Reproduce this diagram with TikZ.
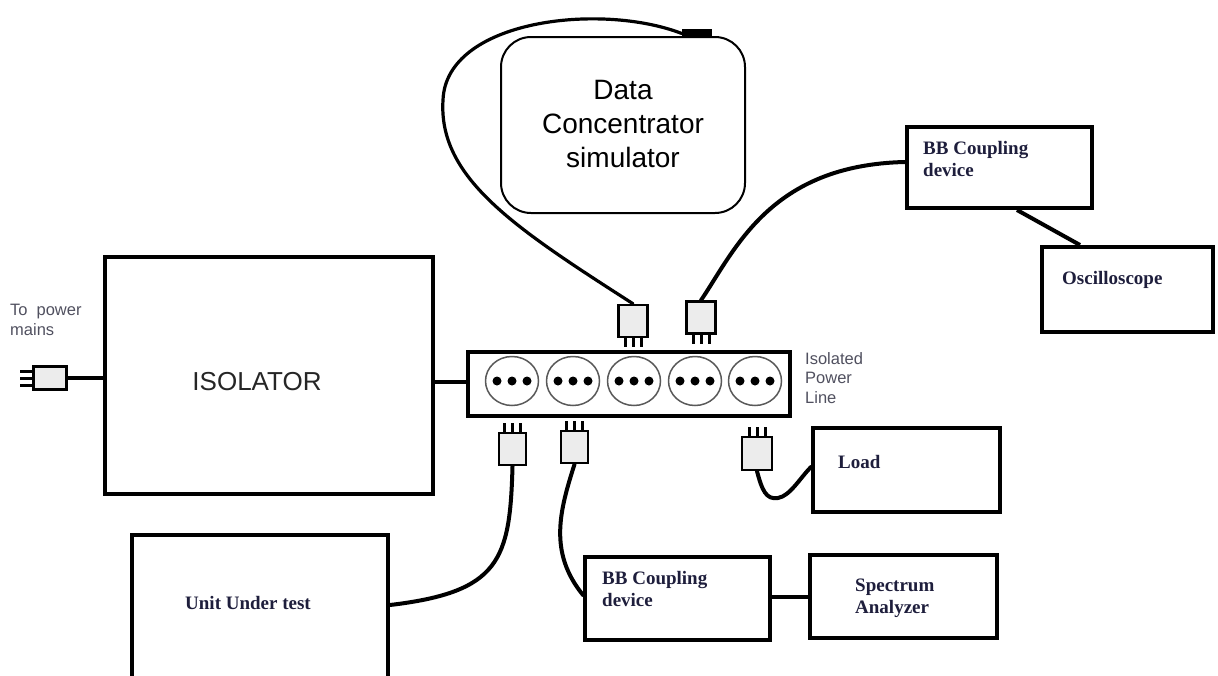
\documentclass[tikz,border=0pt]{standalone}
\usepackage{fontspec}
\setmainfont{Liberation Serif}
\setsansfont{Liberation Sans}
\usetikzlibrary{shapes.geometric}
\definecolor{navytxt}{HTML}{1E1E3C}
\definecolor{graytxt}{HTML}{50505F}
\definecolor{plugfill}{HTML}{ECECEC}
\begin{document}
\begin{tikzpicture}[x=1pt,y=-1pt,
  blk/.style={draw, line width=4pt, inner sep=0pt, fill=white},
  plugbody/.style={draw, line width=2.5pt, fill=plugfill, inner sep=0pt,
    minimum width=29pt, minimum height=32pt},
  prong/.style={line width=3pt},
  cable/.style={line width=4pt, line cap=round},
  socket/.style={ellipse, draw=black!65, line width=1.5pt, inner sep=0pt,
    minimum width=53pt, minimum height=49pt},
  boldlbl/.style={font=\fontsize{19}{22}\selectfont\bfseries, text=navytxt,
    inner sep=0pt, align=left, anchor=west},
  graylbl/.style={font=\sffamily\fontsize{16.5}{19.5}\selectfont, text=graytxt,
    inner sep=0pt, align=left, anchor=west},
]
\useasboundingbox (0,0) rectangle (1218,675);
\clip (0,0) rectangle (1218,675);

% ---------- mains plug and isolator ----------
\node[plugbody, minimum width=33pt, minimum height=23pt] (mplug) at (50,378) {};
\foreach \d in {-7,0,7}
  \draw[prong] ([yshift=\d pt]mplug.west) -- ++(-12,0);
\node[graylbl] (mainslbl) at (10,320) {To\hspace{9pt}power\\mains};

\node[blk, minimum width=328pt, minimum height=237pt] (iso) at (269,375) {};
\node[font=\sffamily\fontsize{26}{30}\selectfont, text=black!85, inner sep=0pt]
  (isotxt) at (257,382) {ISOLATOR};
\draw[cable, line cap=butt] (mplug.east) -- (iso.west |- mplug.east);

% ---------- isolated power strip ----------
\node[blk, minimum width=322pt, minimum height=64pt] (strip) at (629,384) {};
\draw[line width=4pt] (iso.east |- 0,382) -- (strip.west |- 0,382);
\foreach \i/\cx in {1/512,2/573,3/634,4/695,5/755} {
  \node[socket] (s\i) at (\cx,381) {};
  \foreach \d in {-15,0,15}
    \fill ([xshift=\d pt]s\i.center) circle[radius=4.5];
}
\node[graylbl] (striplbl) at (805,378) {Isolated\\Power\\Line};

% ---------- plugs in the strip ----------
% top plugs: prongs pointing down
\node[plugbody] (p1) at (633,321) {};
\node[plugbody] (p2) at (701,317.5) {};
\foreach \p in {p1,p2}
  \foreach \d in {-8,0,8}
    \draw[prong] ([xshift=\d pt]\p.south) -- ++(0,9);
% bottom plugs: prongs pointing up
\node[plugbody, minimum width=27pt] (p3) at (512.5,449) {};
\node[plugbody, minimum width=27pt] (p4) at (574.5,447) {};
\node[plugbody, minimum width=30pt, minimum height=33pt] (p5) at (757,453.5) {};
\foreach \p in {p3,p4,p5}
  \foreach \d in {-8,0,8}
    \draw[prong] ([xshift=\d pt]\p.north) -- ++(0,-9);

% ---------- data concentrator simulator ----------
\node[draw, line width=2pt, rounded corners=30pt, minimum width=244pt,
  minimum height=176pt, inner sep=0pt, fill=white] (dc) at (623,125) {};
\node[font=\sffamily\fontsize{28}{34}\selectfont, align=center, inner sep=0pt]
  (dctxt) at (623,124) {Data\\Concentrator\\simulator};
\node[fill=black, minimum width=30pt, minimum height=9pt, inner sep=0pt]
  (dcport) at (697,33.5) {};
\draw[line width=3.2pt, line cap=round] (p1.north)
  .. controls (515,228) and (438,178) .. (443,100)
  .. controls (446,20) and (600,2) .. (dcport.west);

% ---------- broadband coupling device and oscilloscope ----------
\node[blk, minimum width=185pt, minimum height=81pt] (bbt) at (999.5,167.5) {};
\node[boldlbl] (bbtlbl) at (923,159) {BB Coupling\\device};
\draw[cable] (p2.north) .. controls (735,250) and (770,165) .. (bbt.west |- 0,162);

\node[blk, minimum width=171pt, minimum height=85pt] (osc) at (1127.5,289.5) {};
\node[boldlbl] (osclbl) at (1062,280) {Oscilloscope};
\draw[line width=4pt] (1017,0 |- bbt.south) -- (1080,0 |- osc.north);

% ---------- load ----------
\node[blk, minimum width=187pt, minimum height=84pt] (load) at (906.5,470) {};
\node[boldlbl] (loadlbl) at (838,462) {Load};
\draw[cable] (p5.south) .. controls (762,490) and (766,500) .. (778,498)
  .. controls (790,496) and (800,478) .. (load.west |- 0,467);

% ---------- unit under test ----------
\node[blk, minimum width=256pt, minimum height=150pt] (uut) at (260,610) {};
\node[boldlbl] (uutlbl) at (185,603) {Unit Under test};
\draw[cable] (p3.south) .. controls (510,560) and (500,592) .. (uut.east |- 0,605);

% ---------- broadband coupling device and spectrum analyzer ----------
\node[blk, minimum width=185pt, minimum height=83pt] (bbb) at (677.5,598.5) {};
\node[boldlbl] (bbblbl) at (602,589) {BB Coupling\\device};
\draw[cable] (p4.south) .. controls (560,510) and (548,552) .. (bbb.west |- 0,595);

\node[blk, minimum width=187pt, minimum height=83pt] (sa) at (903.5,596.5) {};
\node[boldlbl] (salbl) at (855,598) {Spectrum\\Analyzer};
\draw[line width=4pt] (bbb.east |- 0,597) -- (sa.west |- 0,597);
\end{tikzpicture}
\end{document}
